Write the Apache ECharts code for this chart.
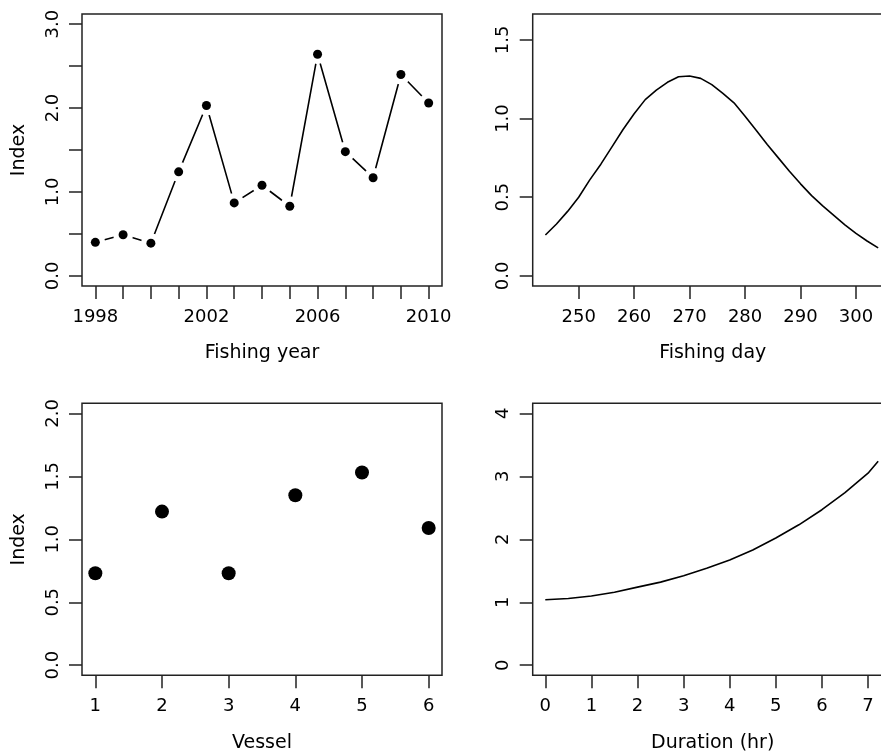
<!DOCTYPE html>
<html>
<head>
<meta charset="utf-8">
<script src="https://cdn.jsdelivr.net/npm/echarts@6/dist/echarts.min.js"></script>
<style>
  html, body { margin: 0; padding: 0; background: #fff; overflow: hidden; }
  #chart { width: 881px; height: 754px; }
</style>
</head>
<body>
<div id="chart"></div>
<script>
// Standardised effects from the CPUE model, one panel per term.

// Fishing year effect
const years = [1998, 1999, 2000, 2001, 2002, 2003, 2004, 2005, 2006, 2007, 2008, 2009, 2010];
const yearIndex = [0.40, 0.49, 0.39, 1.24, 2.03, 0.87, 1.08, 0.83, 2.64, 1.48, 1.17, 2.40, 2.06];
const yearTicks = [1998, 1999, 2000, 2001, 2002, 2003, 2004, 2005, 2006, 2007, 2008, 2009, 2010];
const yearTickLabels = [1998, 2002, 2006, 2010];
const yearIndexTicks = [0, 0.5, 1, 1.5, 2, 2.5, 3];
const yearIndexLabels = [0, 1, 2, 3];

// Fishing day effect
const fishingDays = [244, 246, 248, 250, 252, 254, 256, 258, 260, 262, 264, 266, 268, 270, 272,
                     274, 276, 278, 280, 282, 284, 286, 288, 290, 292, 294, 296, 298, 300, 302, 304];
const dayEffect = [0.26, 0.33, 0.41, 0.50, 0.61, 0.71, 0.82, 0.93, 1.03, 1.12, 1.18, 1.23, 1.265, 1.27, 1.255,
                   1.215, 1.16, 1.10, 1.015, 0.925, 0.835, 0.75, 0.665, 0.585, 0.51, 0.445, 0.385, 0.325, 0.27, 0.222, 0.178];
const dayTicks = [250, 260, 270, 280, 290, 300];
const dayEffectTicks = [0, 0.5, 1, 1.5];

// Vessel effect
const vessels = [1, 2, 3, 4, 5, 6];
const vesselIndex = [0.73, 1.22, 0.73, 1.35, 1.53, 1.09];
const vesselTicks = [1, 2, 3, 4, 5, 6];
const vesselIndexTicks = [0, 0.5, 1, 1.5, 2];

// Tow duration effect
const durationHr = [0, 0.5, 1, 1.5, 2, 2.5, 3, 3.5, 4, 4.5, 5, 5.5, 6, 6.5, 7, 7.22];
const durationEffect = [1.04, 1.06, 1.10, 1.16, 1.24, 1.32, 1.42, 1.54, 1.67, 1.83, 2.02, 2.23, 2.47, 2.74, 3.05, 3.24];
const durationTicks = [0, 1, 2, 3, 4, 5, 6, 7];
const durationEffectTicks = [0, 1, 2, 3, 4];

const FONT = 'DejaVu Sans';
const FS = 18;
const NAME_FS = 19;
const INK = '#000';

function grid(left, top) {
  return {
    left: left, top: top, width: 360, height: 272,
    show: true, borderColor: '#222', borderWidth: 1.5, backgroundColor: 'transparent',
    containLabel: false, outerBoundsMode: 'none'
  };
}

function axis(kind, gridIndex, min, max, ticks, labels, name, fmt) {
  const isY = kind === 'y';
  return {
    type: 'value',
    gridIndex: gridIndex,
    min: min, max: max,
    position: isY ? 'left' : 'bottom',
    name: name,
    nameLocation: 'middle',
    nameGap: isY ? 53 : 58,
    nameTextStyle: { fontFamily: FONT, fontSize: NAME_FS, color: INK },
    axisLine: { show: false, onZero: false },
    splitLine: { show: false },
    axisTick: { show: true, inside: false, length: 13, customValues: ticks,
                lineStyle: { color: '#222', width: 1.5 } },
    axisLabel: {
      show: true, customValues: labels, rotate: isY ? 90 : 0, margin: isY ? 20 : 22,
      fontFamily: FONT, fontSize: FS, color: INK, hideOverlap: false,
      formatter: fmt || (v => String(v))
    }
  };
}

const oneDecimal = v => Number(v).toFixed(1);

const option = {
  animation: false,
  backgroundColor: '#fff',
  grid: [grid(82, 14), grid(532.7, 14), grid(82, 403.3), grid(532.7, 403.3)],
  xAxis: [
    axis('x', 0, 1997.52, 2010.48, yearTicks, yearTickLabels, 'Fishing year'),
    axis('x', 1, 241.71, 306.62, dayTicks, dayTicks, 'Fishing day'),
    axis('x', 2, 0.8, 6.2, vesselTicks, vesselTicks, 'Vessel'),
    axis('x', 3, -0.273, 7.535, durationTicks, durationTicks, 'Duration (hr)')
  ],
  yAxis: [
    axis('y', 0, -0.12, 3.12, yearIndexTicks, yearIndexLabels, 'Index', oneDecimal),
    axis('y', 1, -0.064, 1.664, dayEffectTicks, dayEffectTicks, '', oneDecimal),
    axis('y', 2, -0.08, 2.08, vesselIndexTicks, vesselIndexTicks, 'Index', oneDecimal),
    axis('y', 3, -0.16, 4.16, durationEffectTicks, durationEffectTicks, '')
  ],
  series: [
    // year: connecting line, white gap around each point, then the point
    {
      type: 'line', xAxisIndex: 0, yAxisIndex: 0, symbol: 'none', silent: true, z: 2,
      data: years.map((y, i) => [y, yearIndex[i]]),
      lineStyle: { color: INK, width: 1.6 }
    },
    {
      type: 'scatter', xAxisIndex: 0, yAxisIndex: 0, symbolSize: 20, silent: true, z: 3,
      data: years.map((y, i) => [y, yearIndex[i]]),
      itemStyle: { color: '#fff', opacity: 1 }
    },
    {
      type: 'scatter', xAxisIndex: 0, yAxisIndex: 0, symbolSize: 9, silent: true, z: 4,
      data: years.map((y, i) => [y, yearIndex[i]]),
      itemStyle: { color: INK, opacity: 1 }
    },
    {
      type: 'line', xAxisIndex: 1, yAxisIndex: 1, symbol: 'none', silent: true, clip: true,
      data: fishingDays.map((d, i) => [d, dayEffect[i]]),
      lineStyle: { color: INK, width: 1.6 }
    },
    {
      type: 'scatter', xAxisIndex: 2, yAxisIndex: 2, symbolSize: 14, silent: true,
      data: vessels.map((v, i) => [v, vesselIndex[i]]),
      itemStyle: { color: INK, opacity: 1 }
    },
    {
      type: 'line', xAxisIndex: 3, yAxisIndex: 3, symbol: 'none', silent: true, clip: true,
      data: durationHr.map((d, i) => [d, durationEffect[i]]),
      lineStyle: { color: INK, width: 1.6 }
    }
  ]
};

const chart = echarts.init(document.getElementById('chart'), null, { renderer: 'canvas' });
chart.setOption(option);
</script>
</body>
</html>
